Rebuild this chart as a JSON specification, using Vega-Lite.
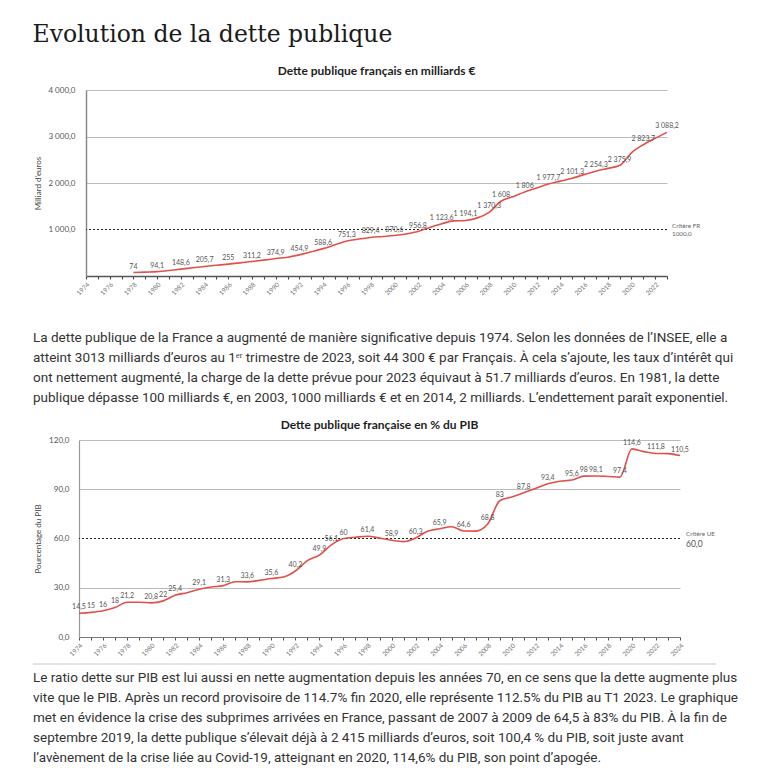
{
  "$schema": "https://vega.github.io/schema/vega-lite/v6.json",
  "background": "white",
  "padding": {"left": 32, "top": 22, "right": 0, "bottom": 0},
  "title": {"text": "Evolution de la dette publique", "anchor": "start", "font": "DejaVu Serif", "fontSize": 23.5, "fontWeight": "normal", "color": "#1a1a1a", "offset": 19},
  "spacing": 0,
  "datasets": {
    "debt": [
      {"year": 1978, "v": 74, "lab": true}, {"year": 1979, "v": 84}, {"year": 1980, "v": 94.1, "lab": true},
      {"year": 1981, "v": 118}, {"year": 1982, "v": 148.6, "lab": true}, {"year": 1983, "v": 176},
      {"year": 1984, "v": 205.7, "lab": true}, {"year": 1985, "v": 231}, {"year": 1986, "v": 255, "lab": true},
      {"year": 1987, "v": 283}, {"year": 1988, "v": 311.2, "lab": true}, {"year": 1989, "v": 342},
      {"year": 1990, "v": 374.9, "lab": true}, {"year": 1991, "v": 405}, {"year": 1992, "v": 454.9, "lab": true},
      {"year": 1993, "v": 520}, {"year": 1994, "v": 588.6, "lab": true}, {"year": 1995, "v": 670},
      {"year": 1996, "v": 751.3, "lab": true}, {"year": 1997, "v": 795}, {"year": 1998, "v": 829.4, "lab": true},
      {"year": 1999, "v": 850}, {"year": 2000, "v": 870.6, "lab": true}, {"year": 2001, "v": 905},
      {"year": 2002, "v": 956.8, "lab": true}, {"year": 2003, "v": 1045}, {"year": 2004, "v": 1123.6, "lab": true},
      {"year": 2005, "v": 1185}, {"year": 2006, "v": 1194.1, "lab": true}, {"year": 2007, "v": 1250},
      {"year": 2008, "v": 1370.3, "lab": true}, {"year": 2009, "v": 1608, "lab": true}, {"year": 2010, "v": 1705},
      {"year": 2011, "v": 1806, "lab": true}, {"year": 2012, "v": 1892}, {"year": 2013, "v": 1977.7, "lab": true},
      {"year": 2014, "v": 2040}, {"year": 2015, "v": 2101.3, "lab": true}, {"year": 2016, "v": 2180},
      {"year": 2017, "v": 2254.3, "lab": true}, {"year": 2018, "v": 2315}, {"year": 2019, "v": 2375.9, "lab": true},
      {"year": 2020, "v": 2650}, {"year": 2021, "v": 2823.7, "lab": true}, {"year": 2022, "v": 2960},
      {"year": 2023, "v": 3088.2, "lab": true}
    ],
    "pib": [
      {"year": 1974, "v": 14.5, "lab": true}, {"year": 1975, "v": 15, "lab": true}, {"year": 1976, "v": 16, "lab": true},
      {"year": 1977, "v": 18, "lab": true}, {"year": 1978, "v": 21.2, "lab": true}, {"year": 1979, "v": 21.2},
      {"year": 1980, "v": 20.8, "lab": true}, {"year": 1981, "v": 22, "lab": true}, {"year": 1982, "v": 25.4, "lab": true},
      {"year": 1983, "v": 27}, {"year": 1984, "v": 29.1, "lab": true}, {"year": 1985, "v": 30.5},
      {"year": 1986, "v": 31.3, "lab": true}, {"year": 1987, "v": 33.7}, {"year": 1988, "v": 33.6, "lab": true},
      {"year": 1989, "v": 34.5}, {"year": 1990, "v": 35.6, "lab": true}, {"year": 1991, "v": 36.5},
      {"year": 1992, "v": 40.2, "lab": true}, {"year": 1993, "v": 46.5}, {"year": 1994, "v": 49.9, "lab": true},
      {"year": 1995, "v": 56.1, "lab": true}, {"year": 1996, "v": 60, "lab": true}, {"year": 1997, "v": 60.8},
      {"year": 1998, "v": 61.4, "lab": true}, {"year": 1999, "v": 60.3}, {"year": 2000, "v": 58.9, "lab": true},
      {"year": 2001, "v": 58.1}, {"year": 2002, "v": 60.3, "lab": true}, {"year": 2003, "v": 64.4},
      {"year": 2004, "v": 65.9, "lab": true}, {"year": 2005, "v": 67.2}, {"year": 2006, "v": 64.6, "lab": true},
      {"year": 2007, "v": 64.5}, {"year": 2008, "v": 68.8, "lab": true}, {"year": 2009, "v": 83, "lab": true},
      {"year": 2010, "v": 85.3}, {"year": 2011, "v": 87.8, "lab": true}, {"year": 2012, "v": 90.6},
      {"year": 2013, "v": 93.4, "lab": true}, {"year": 2014, "v": 94.9}, {"year": 2015, "v": 95.6, "lab": true},
      {"year": 2016, "v": 98, "lab": true}, {"year": 2017, "v": 98.1, "lab": true}, {"year": 2018, "v": 97.8},
      {"year": 2019, "v": 97.4, "lab": true}, {"year": 2020, "v": 114.6, "lab": true}, {"year": 2021, "v": 112.9},
      {"year": 2022, "v": 111.8, "lab": true}, {"year": 2023, "v": 111.7}, {"year": 2024, "v": 110.5, "lab": true}
    ],
    "para1": [
      {"n": 1, "t": "La dette publique de la France a augmenté de manière significative depuis 1974. Selon les données de l’INSEE, elle a"},
      {"n": 2, "t": "atteint 3013 milliards d’euros au 1ᵉʳ trimestre de 2023, soit 44 300 € par Français. À cela s’ajoute, les taux d’intérêt qui"},
      {"n": 3, "t": "ont nettement augmenté, la charge de la dette prévue pour 2023 équivaut à 51.7 milliards d’euros. En 1981, la dette"},
      {"n": 4, "t": "publique dépasse 100 milliards €, en 2003, 1000 milliards € et en 2014, 2 milliards. L’endettement paraît exponentiel."}
    ],
    "para2": [
      {"n": 1, "t": "Le ratio dette sur PIB est lui aussi en nette augmentation depuis les années 70, en ce sens que la dette augmente plus"},
      {"n": 2, "t": "vite que le PIB. Après un record provisoire de 114.7% fin 2020, elle représente 112.5% du PIB au T1 2023. Le graphique"},
      {"n": 3, "t": "met en évidence la crise des subprimes arrivées en France, passant de 2007 à 2009 de 64,5 à 83% du PIB. À la fin de"},
      {"n": 4, "t": "septembre 2019, la dette publique s’élevait déjà à 2 415 milliards d’euros, soit 100,4 % du PIB, soit juste avant"},
      {"n": 5, "t": "l’avènement de la crise liée au Covid-19, atteignant en 2020, 114,6% du PIB, son point d’apogée."}
    ]
  },
  "vconcat": [
    {"spacing": 0, "hconcat": [
      {"width": 1, "height": 1, "data": {"values": []}, "mark": "point"},
      {
      "width": 581,
      "height": 186,
      "title": {"text": "Dette publique français en milliards €", "frame": "group", "anchor": "middle", "font": "Lato", "fontSize": 12, "fontWeight": "bold", "color": "#1e1e1e", "offset": 8},
      "layer": [
        {
          "data": {"values": [{"crit": 1000}]},
          "mark": {"type": "rule", "color": "#222222", "strokeDash": [2, 2], "strokeWidth": 1.1},
          "encoding": {"y": {"field": "crit", "type": "quantitative", "scale": {"domain": [0, 4000], "nice": false}}}
        },
        {
          "data": {"name": "debt"},
          "mark": {"type": "line", "color": "#e2504b", "strokeWidth": 1.6, "interpolate": "monotone"},
          "encoding": {
            "x": {"field": "year", "type": "quantitative", "scale": {"domain": [1974, 2023], "nice": false, "zero": false},
              "axis": {"values": [1974,1975,1976,1977,1978,1979,1980,1981,1982,1983,1984,1985,1986,1987,1988,1989,1990,1991,1992,1993,1994,1995,1996,1997,1998,1999,2000,2001,2002,2003,2004,2005,2006,2007,2008,2009,2010,2011,2012,2013,2014,2015,2016,2017,2018,2019,2020,2021,2022,2023],
                "tickCount": 100, "format": "d", "labelExpr": "datum.value % 2 == 0 ? datum.label : ''", "labelAngle": -45, "labelFontSize": 6.5, "labelColor": "#777777", "labelFont": "Lato", "labelPadding": 2, "labelOverlap": false, "grid": false, "tickSize": 3, "tickColor": "#444444", "tickWidth": 1.1, "domainColor": "#555555", "domainWidth": 1.5, "title": null}},
            "y": {"field": "v", "type": "quantitative",
              "axis": {"values": [1000, 2000, 3000, 4000], "format": ",.1f", "grid": true, "gridColor": "#bbbbbb", "gridWidth": 1, "gridOpacity": {"condition": {"test": "datum.value == 1000", "value": 0}, "value": 1}, "ticks": false, "domainColor": "#8a8a8a", "domainWidth": 1.5, "labelFontSize": 8, "labelColor": "#555555", "labelFont": "Lato", "labelPadding": 11, "title": "Milliard d'euros", "titleFont": "Lato", "titleFontSize": 8, "titleFontWeight": "normal", "titleColor": "#444444", "titlePadding": 5.5}}
          }
        },
        {
          "data": {"name": "debt"},
          "transform": [{"filter": "datum.lab"}],
          "mark": {"type": "text", "font": "Lato", "fontSize": 7, "color": "#555555", "dy": -6},
          "encoding": {
            "x": {"field": "year", "type": "quantitative"},
            "y": {"field": "v", "type": "quantitative"},
            "text": {"field": "v", "type": "quantitative", "format": ",.1~f"}
          }
        },
        {
          "data": {"values": [{"crit": 1000}]},
          "mark": {"type": "text", "text": "Critère FR", "align": "left", "dx": 5, "dy": -4, "font": "Lato", "fontSize": 6.3, "color": "#666666"},
          "encoding": {"x": {"datum": 2023, "type": "quantitative"}, "y": {"field": "crit", "type": "quantitative"}}
        },
        {
          "data": {"values": [{"crit": 1000}]},
          "mark": {"type": "text", "align": "left", "dx": 5, "dy": 4.5, "font": "Lato", "fontSize": 6.3, "color": "#666666"},
          "encoding": {"x": {"datum": 2023, "type": "quantitative"}, "y": {"field": "crit", "type": "quantitative"}, "text": {"field": "crit", "type": "quantitative", "format": ".1f"}}
        }
      ]
    }]},
    {
      "width": 695,
      "height": 120.5,
      "data": {"name": "para1"},
      "mark": {"type": "text", "align": "left", "baseline": "middle", "font": "Roboto", "fontSize": 13.5, "color": "#333333"},
      "encoding": {
        "x": {"datum": 0, "type": "quantitative", "scale": {"domain": [0, 1]}, "axis": null},
        "y": {"field": "n", "type": "quantitative", "scale": {"domain": [-1.05, 4.975], "reverse": true, "nice": false, "zero": false}, "axis": null},
        "text": {"field": "t"}
      }
    },
    {"spacing": 0, "hconcat": [
      {"width": 1, "height": 1, "data": {"values": []}, "mark": "point"},
      {
      "width": 601,
      "height": 197,
      "title": {"text": "Dette publique française en % du PIB", "frame": "group", "anchor": "middle", "font": "Lato", "fontSize": 12, "fontWeight": "bold", "color": "#1e1e1e", "offset": 4.5},
      "layer": [
        {
          "data": {"values": [{"crit": 60}]},
          "mark": {"type": "rule", "color": "#222222", "strokeDash": [2, 2], "strokeWidth": 1.1},
          "encoding": {"y": {"field": "crit", "type": "quantitative", "scale": {"domain": [0, 120], "nice": false}}}
        },
        {
          "data": {"name": "pib"},
          "mark": {"type": "line", "color": "#e2504b", "strokeWidth": 1.6, "interpolate": "monotone"},
          "encoding": {
            "x": {"field": "year", "type": "quantitative", "scale": {"domain": [1974, 2024], "nice": false, "zero": false},
              "axis": {"values": [1974,1975,1976,1977,1978,1979,1980,1981,1982,1983,1984,1985,1986,1987,1988,1989,1990,1991,1992,1993,1994,1995,1996,1997,1998,1999,2000,2001,2002,2003,2004,2005,2006,2007,2008,2009,2010,2011,2012,2013,2014,2015,2016,2017,2018,2019,2020,2021,2022,2023,2024],
                "tickCount": 100, "format": "d", "labelExpr": "datum.value % 2 == 0 ? datum.label : ''", "labelAngle": -45, "labelFontSize": 6.5, "labelColor": "#777777", "labelFont": "Lato", "labelPadding": 2, "labelOverlap": false, "grid": false, "tickSize": 3, "tickColor": "#555555", "tickWidth": 1, "domainColor": "#777777", "domainWidth": 1.2, "title": null}},
            "y": {"field": "v", "type": "quantitative",
              "axis": {"values": [0, 30, 60, 90, 120], "format": ",.1f", "grid": true, "gridColor": "#bbbbbb", "gridWidth": 1.2, "gridOpacity": {"condition": {"test": "datum.value == 60", "value": 0}, "value": 1}, "ticks": false, "domainColor": "#999999", "domainWidth": 1.2, "labelFontSize": 8, "labelColor": "#555555", "labelFont": "Lato", "labelPadding": 10, "title": "Pourcentage du PIB", "titleFont": "Lato", "titleFontSize": 8, "titleFontWeight": "normal", "titleColor": "#444444", "titlePadding": 6}}
          }
        },
        {
          "data": {"name": "pib"},
          "transform": [{"filter": "datum.lab"}],
          "mark": {"type": "text", "font": "Lato", "fontSize": 7, "color": "#555555", "dy": -6},
          "encoding": {
            "x": {"field": "year", "type": "quantitative"},
            "y": {"field": "v", "type": "quantitative"},
            "text": {"field": "v", "type": "quantitative", "format": ",.1~f"}
          }
        },
        {
          "data": {"values": [{"crit": 60}]},
          "mark": {"type": "text", "text": "Critère UE", "align": "left", "dx": 6, "dy": -5, "font": "Lato", "fontSize": 6.3, "color": "#666666"},
          "encoding": {"x": {"datum": 2024, "type": "quantitative"}, "y": {"field": "crit", "type": "quantitative"}}
        },
        {
          "data": {"values": [{"crit": 60}]},
          "mark": {"type": "text", "align": "left", "dx": 6, "dy": 5.5, "font": "Lato", "fontSize": 8.5, "color": "#555555"},
          "encoding": {"x": {"datum": 2024, "type": "quantitative"}, "y": {"field": "crit", "type": "quantitative"}, "text": {"field": "crit", "type": "quantitative", "format": ".1f"}}
        }
      ]
    }]},
    {
      "width": 683,
      "height": 109,
      "layer": [
        {
          "data": {"values": [{"sep": 0.3, "a": 0, "b": 1}]},
          "mark": {"type": "rule", "color": "#c8c8c8", "strokeWidth": 1},
          "encoding": {
            "x": {"field": "a", "type": "quantitative", "scale": {"domain": [0, 1]}, "axis": null},
            "x2": {"field": "b"},
            "y": {"field": "sep", "type": "quantitative", "scale": {"domain": [0, 5.45], "reverse": true, "nice": false, "zero": false}, "axis": null}
          }
        },
        {
          "data": {"name": "para2"},
          "mark": {"type": "text", "align": "left", "baseline": "middle", "font": "Roboto", "fontSize": 13.5, "color": "#333333"},
          "encoding": {
            "x": {"datum": 0, "type": "quantitative"},
            "y": {"field": "n", "type": "quantitative"},
            "text": {"field": "t"}
          }
        }
      ]
    }
  ],
  "config": {
    "locale": {"number": {"decimal": ",", "thousands": " ", "grouping": [3], "currency": ["", " €"]}},
    "view": {"stroke": null},
    "axis": {"labelOverlap": false}
  }
}
